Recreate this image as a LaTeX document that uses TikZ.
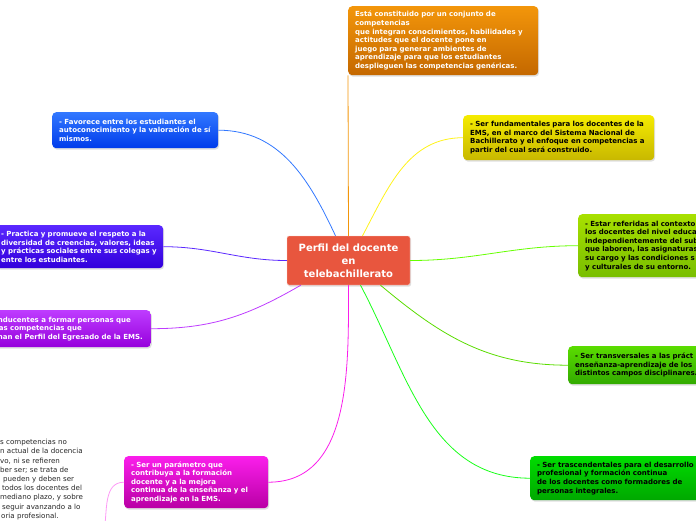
\documentclass[tikz,border=0pt]{standalone}
\usepackage{fontspec}
\setmainfont{DejaVu Sans}
\usetikzlibrary{positioning, calc, shadows}
\definecolor{cCentre}{RGB}{232,86,62}
\definecolor{cOrange}{RGB}{243,150,10}
\definecolor{cOrangeD}{RGB}{196,104,0}
\definecolor{cYellow}{RGB}{245,235,0}
\definecolor{cYellowD}{RGB}{200,184,0}
\definecolor{cLime}{RGB}{168,224,0}
\definecolor{cLimeD}{RGB}{120,190,0}
\definecolor{cLeaf}{RGB}{90,220,0}
\definecolor{cLeafD}{RGB}{50,170,0}
\definecolor{cGreen}{RGB}{0,220,0}
\definecolor{cGreenD}{RGB}{0,168,0}
\definecolor{cBlue}{RGB}{50,120,255}
\definecolor{cBlueD}{RGB}{0,60,235}
\definecolor{cIndigo}{RGB}{90,40,255}
\definecolor{cIndigoD}{RGB}{50,0,220}
\definecolor{cViolet}{RGB}{190,60,255}
\definecolor{cVioletD}{RGB}{150,0,220}
\definecolor{cMagenta}{RGB}{250,30,235}
\definecolor{cMagentaD}{RGB}{185,0,165}
\tikzset{
	topic/.style  ={rectangle, rounded corners=4pt, anchor=north west, align=left,
		inner xsep=7pt, inner ysep=5pt, text=white,
		font=\fontsize{7}{8.6}\selectfont\bfseries,
		drop shadow={opacity=0.25, shadow xshift=1pt, shadow yshift=-1.5pt}},
	darktopic/.style={topic, text=black},
	centre/.style ={rectangle, rounded corners=2pt, draw=white!70!cCentre, fill=cCentre,
		text=white, align=center, minimum width=123pt, minimum height=49pt,
		font=\fontsize{10}{13}\selectfont\bfseries,
		drop shadow={opacity=0.25, shadow xshift=1pt, shadow yshift=-1.5pt}},
	branch/.style ={line width=0.8pt},
}

\begin{document}
\begin{tikzpicture}[x=1pt, y=-1pt]
	\useasboundingbox (0,0) rectangle (696,520);
	\node[centre] (perfil) at (348.5,260.5) {Perfil del docente\\ en\\ telebachillerato};
	% right side
	\node[topic, top color=cOrange, bottom color=cOrangeD, text width=176pt, minimum height=69pt]
		(constituido) at (348,6) {Está constituido por un conjunto de\\ competencias\\ que integran conocimientos, habilidades y\\ actitudes que el docente pone en\\ juego para generar ambientes de\\ aprendizaje para que los estudiantes\\ desplieguen las competencias genéricas.};
	\node[darktopic, top color=cYellow, bottom color=cYellowD, text width=177pt, minimum height=45pt]
		(fundamentales) at (463,115) {- Ser fundamentales para los docentes de la\\ EMS, en el marco del Sistema Nacional de\\ Bachillerato y el enfoque en competencias a\\ partir del cual será construido.};
	\node[darktopic, top color=cLime, bottom color=cLimeD, text width=160pt, minimum height=63pt]
		(contexto) at (578,214) {- Estar referidas al contexto\\ los docentes del nivel educa\\ independientemente del sub\\ que laboren, las asignaturas\\ su cargo y las condiciones s\\ y culturales de su entorno.};
	\node[darktopic, top color=cLeaf, bottom color=cLeafD, text width=160pt, minimum height=38pt]
		(transversales) at (568,346) {- Ser transversales a las práct\\ enseñanza-aprendizaje de los\\ distintos campos disciplinares.};
	\node[darktopic, top color=cGreen, bottom color=cGreenD, text width=158pt, minimum height=44pt]
		(trascendentales) at (530,456) {- Ser trascendentales para el desarrollo\\ profesional y formación continua\\ de los docentes como formadores de\\ personas integrales.};
	% left side
	\node[topic, top color=cBlue, bottom color=cBlueD, text width=152pt, minimum height=36pt]
		(favorece) at (52,112) {- Favorece entre los estudiantes el\\ autoconocimiento y la valoración de sí\\ mismos.};
	\node[topic, top color=cIndigo, bottom color=cIndigoD, text width=157pt, minimum height=43pt, inner xsep=5pt]
		(practica) at (-4,225) {- Practica y promueve el respeto a la\\ diversidad de creencias, valores, ideas\\ y prácticas sociales entre sus colegas y\\ entre los estudiantes.};
	\node[topic, anchor=north east, top color=cViolet, bottom color=cVioletD, minimum height=37pt, inner xsep=8pt]
		(conducentes) at (151,310) {nducentes a formar personas que\\ \hspace*{1pt}as competencias que\\ han el Perfil del Egresado de la EMS.};
	\node[topic, top color=cMagenta, bottom color=cMagentaD, text width=130pt, minimum height=52pt]
		(parametro) at (124,456) {- Ser un parámetro que\\ contribuya a la formación\\ docente y a la mejora\\ continua de la enseñanza y el\\ aprendizaje en la EMS.};
	\node[anchor=north west, align=left, inner sep=0pt, text=black!85,
		font=\fontsize{7.1}{9.2}\selectfont]
		(nota) at (0,439) {s competencias no\\ n actual de la docencia\\ vo, ni se refieren\\ ber ser; se trata de\\ \hspace*{3pt}pueden y deben ser\\ \hspace*{2pt}todos los docentes del\\ mediano plazo, y sobre\\ \hspace*{2pt}seguir avanzando a lo\\ \hspace*{1pt}oria profesional.};
	\coordinate (abajo) at (104,532);
	% connectors
	\draw[branch, cOrange] (perfil.north) -- (constituido.south west);
	\draw[branch, yellow!90!white] ($(perfil.north)+(14,0)$) to[out=62, in=180] (fundamentales.west);
	\draw[branch, green!60!yellow] (perfil.east) to[out=0, in=180] (contexto.west);
	\draw[branch, cLeaf] ($(perfil.south)+(32,0)$) to[out=-40, in=180] (transversales.west);
	\draw[branch, green!90!white] ($(perfil.south)+(12,0)$) to[out=-62, in=180] (trascendentales.west);
	\draw[branch, cBlue] (favorece.east) to[out=0, in=115] ($(perfil.north)+(-13,0)$);
	\draw[branch, cIndigo] (practica.east) to[out=0, in=180] (perfil.west);
	\draw[branch, cViolet] (conducentes.east) to[out=0, in=-150] ($(perfil.south west)+(14,0)$);
	\draw[branch, cMagenta] (parametro.east) to[out=0, in=-90] (perfil.south);
	\draw[branch, cMagenta!45!white] (parametro.west) to[out=180, in=80] (abajo);
\end{tikzpicture}
\end{document}
